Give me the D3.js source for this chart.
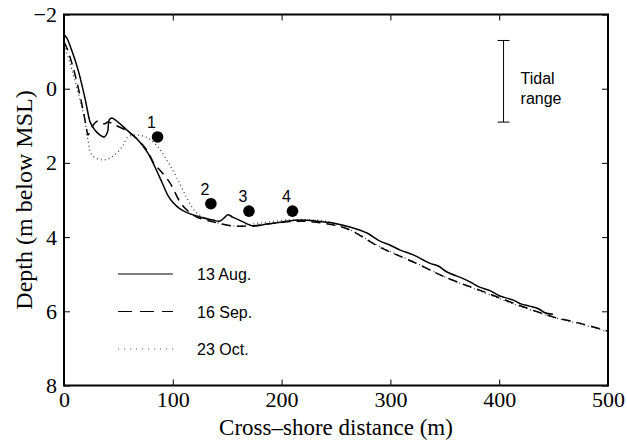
<!DOCTYPE html>
<html>
<head>
<meta charset="utf-8">
<script src="https://cdn.jsdelivr.net/npm/d3@7"></script>
<style>
  body { margin: 0; background: #fff; }
  svg { display: block; }
</style>
</head>
<body>
<svg id="chart" width="627" height="440"></svg>
<script>
// Beach profiles: cross-shore distance (m) vs depth (m below MSL)
const augX = [0, 2.5, 7, 13, 19, 24, 25.5, 30, 37, 40, 41.5, 44, 49.6, 57.6, 68, 77, 83.6, 90, 95.6, 100, 106.6, 113, 125, 137, 143, 148, 150.7, 155, 164.5, 173.7, 186.6, 201, 217, 232.5, 247, 262, 278.5, 290, 300, 309, 321, 336, 344, 352, 367, 374, 382, 392, 400, 413, 420, 428, 436, 442, 449.4];
const augDepth = [-1.45, -1.37, -1.04, -0.5, 0.22, 0.9, 0.98, 1.17, 1.3, 1.17, 0.84, 0.79, 0.9, 1.11, 1.38, 1.73, 2.11, 2.52, 2.88, 3.06, 3.24, 3.34, 3.46, 3.54, 3.57, 3.46, 3.4, 3.46, 3.59, 3.7, 3.65, 3.59, 3.54, 3.57, 3.62, 3.72, 3.89, 4.1, 4.22, 4.35, 4.48, 4.7, 4.78, 4.94, 5.12, 5.22, 5.35, 5.45, 5.58, 5.7, 5.8, 5.86, 5.93, 6.04, 6.08];

const sepX = [0, 3.4, 8.3, 12.9, 17.5, 20.9, 22, 25.7, 31, 36.8, 40.4, 47, 58, 68, 76, 83.6, 88, 97.4, 106.6, 113, 122, 137, 155, 171, 186.6, 217, 247, 263, 290, 321, 352, 382, 413, 449.4, 474, 499];
const sepDepth = [-1.26, -1.04, -0.58, -0.05, 0.57, 1.11, 1.25, 1.03, 0.87, 0.95, 0.9, 0.98, 1.14, 1.38, 1.65, 2.06, 2.19, 2.54, 3.05, 3.27, 3.46, 3.59, 3.7, 3.7, 3.65, 3.57, 3.67, 3.81, 4.27, 4.67, 5.1, 5.43, 5.78, 6.15, 6.32, 6.53];

const octX = [0, 5.5, 10, 14.7, 19.3, 22, 25.7, 35, 44, 53.3, 58.8, 68, 77, 86.4, 95.6, 104.8, 113, 122, 134, 155, 180, 205, 232.5, 247, 263, 290, 321, 352, 382, 413, 449.4, 474, 499];
const octDepth = [-1.18, -0.69, -0.23, 0.3, 0.84, 1.38, 1.79, 1.92, 1.84, 1.57, 1.3, 1.25, 1.33, 1.57, 1.98, 2.46, 2.95, 3.35, 3.54, 3.7, 3.62, 3.54, 3.54, 3.62, 3.8, 4.25, 4.66, 5.1, 5.45, 5.8, 6.16, 6.34, 6.55];

// Instrument stations
const stationLabels = ["1", "2", "3", "4"];
const stationX = [86, 135, 170, 210];
const stationDepth = [1.3, 3.1, 3.3, 3.3];

// Tidal range bar
const tideX = 404;
const tideRange = [-1.3, 0.9];

const xTicks = [0, 100, 200, 300, 400, 500];
const yTicks = [-2, 0, 2, 4, 6, 8];

const legendLabels = ["13 Aug.", "16 Sep.", "23 Oct."];

const margin = { top: 14.5, right: 19, bottom: 54.5, left: 64 };
const width = 627, height = 440;

const svg = d3.select("#chart");

const x = d3.scaleLinear().domain([0, 500]).range([margin.left, width - margin.right]);
const y = d3.scaleLinear().domain([-2, 8]).range([margin.top, height - margin.bottom]);

const serif = '"Liberation Serif", "Times New Roman", serif';
const sans = '"Liberation Sans", Arial, sans-serif';

const styles = [
    { width: 1.5, dash: null, colour: "#000" },
    { width: 1.5, dash: "9,6", colour: "#000" },
    { width: 1.2, dash: "1,3", colour: "#333" }
];

const series = [
    { xs: augX, ys: augDepth },
    { xs: sepX, ys: sepDepth },
    { xs: octX, ys: octDepth }
];

const line = d3.line()
    .curve(d3.curveCatmullRom.alpha(0.5))
    .x(d => x(d[0]))
    .y(d => y(d[1]));

// draw profiles, dotted first so solid sits on top
[2, 1, 0].forEach(i => {
    const s = series[i];
    const pts = s.xs.map((v, k) => [v, s.ys[k]]);
    svg.append("path")
        .attr("d", line(pts))
        .attr("fill", "none")
        .attr("stroke", styles[i].colour)
        .attr("stroke-width", styles[i].width)
        .attr("stroke-dasharray", styles[i].dash)
        .attr("stroke-linejoin", "round");
});

// stations
const stations = svg.append("g");
stations.selectAll("circle")
    .data(stationX)
    .enter()
    .append("circle")
    .attr("cx", d => x(d))
    .attr("cy", (d, i) => y(stationDepth[i]))
    .attr("r", 5.8)
    .attr("fill", "#000");

stations.selectAll("text")
    .data(stationLabels)
    .enter()
    .append("text")
    .attr("x", (d, i) => x(stationX[i]) - 6)
    .attr("y", (d, i) => y(stationDepth[i]) - 9)
    .attr("text-anchor", "middle")
    .style("font-family", sans)
    .style("font-size", "16px")
    .text(d => d);

// tidal range
const tide = svg.append("g");
tide.append("line")
    .attr("x1", x(tideX)).attr("x2", x(tideX))
    .attr("y1", y(tideRange[0])).attr("y2", y(tideRange[1]))
    .attr("stroke", "#000").attr("stroke-width", 1);
tideRange.forEach(v => {
    tide.append("line")
        .attr("x1", x(tideX) - 6).attr("x2", x(tideX) + 6)
        .attr("y1", y(v)).attr("y2", y(v))
        .attr("stroke", "#000").attr("stroke-width", 1);
});
tide.append("text")
    .attr("x", x(tideX) + 17).attr("y", 84)
    .style("font-family", sans).style("font-size", "16px")
    .text("Tidal");
tide.append("text")
    .attr("x", x(tideX) + 17).attr("y", 104)
    .style("font-family", sans).style("font-size", "16px")
    .text("range");

// legend
const legend = svg.append("g")
    .selectAll("g")
    .data(legendLabels)
    .enter()
    .append("g")
    .attr("transform", (d, i) => `translate(118, ${274 + i * 37.5})`);

legend.append("line")
    .attr("x1", 0).attr("x2", 55)
    .attr("stroke", (d, i) => i === 2 ? "#555" : "#000")
    .attr("stroke-width", (d, i) => i === 2 ? 1 : 1.2)
    .attr("stroke-dasharray", (d, i) => i === 1 ? "14,8" : i === 2 ? "1,5" : null);

legend.append("text")
    .attr("x", 79)
    .attr("y", 6)
    .style("font-family", sans)
    .style("font-size", "16px")
    .text(d => d);

// axes frame with inward ticks
const axisStyle = g => {
    g.select(".domain").remove();
    g.selectAll("line").attr("stroke", "#000").attr("stroke-width", 1);
};

svg.append("g")
    .attr("transform", `translate(0, ${y(8)})`)
    .call(d3.axisBottom(x).tickValues(xTicks).tickSizeInner(-6).tickSizeOuter(0).tickPadding(6))
    .call(axisStyle)
    .selectAll("text")
    .style("font-family", serif)
    .style("font-size", "22px")
    .attr("fill", "#000");

svg.append("g")
    .attr("transform", `translate(0, ${y(-2)})`)
    .call(d3.axisTop(x).tickValues(xTicks).tickSizeInner(-6).tickSizeOuter(0).tickFormat(""))
    .call(axisStyle);

svg.append("g")
    .attr("transform", `translate(${x(0)}, 0)`)
    .call(d3.axisLeft(y).tickValues(yTicks).tickSizeInner(-6).tickSizeOuter(0).tickPadding(7))
    .call(axisStyle)
    .selectAll("text")
    .style("font-family", serif)
    .style("font-size", "22px")
    .attr("fill", "#000");

svg.append("g")
    .attr("transform", `translate(${x(500)}, 0)`)
    .call(d3.axisRight(y).tickValues(yTicks).tickSizeInner(-6).tickSizeOuter(0).tickFormat(""))
    .call(axisStyle);

svg.append("rect")
    .attr("x", x(0)).attr("y", y(-2))
    .attr("width", x(500) - x(0)).attr("height", y(8) - y(-2))
    .attr("fill", "none")
    .attr("stroke", "#000")
    .attr("stroke-width", 2);

// axis titles
svg.append("text")
    .attr("x", (x(0) + x(500)) / 2)
    .attr("y", 435)
    .attr("text-anchor", "middle")
    .style("font-family", serif)
    .style("font-size", "23px")
    .text("Cross\u2013shore distance (m)");

svg.append("text")
    .attr("transform", `translate(32, ${(y(-2) + y(8)) / 2}) rotate(-90)`)
    .attr("text-anchor", "middle")
    .style("font-family", serif)
    .style("font-size", "24px")
    .text("Depth (m below MSL)");
</script>
</body>
</html>
